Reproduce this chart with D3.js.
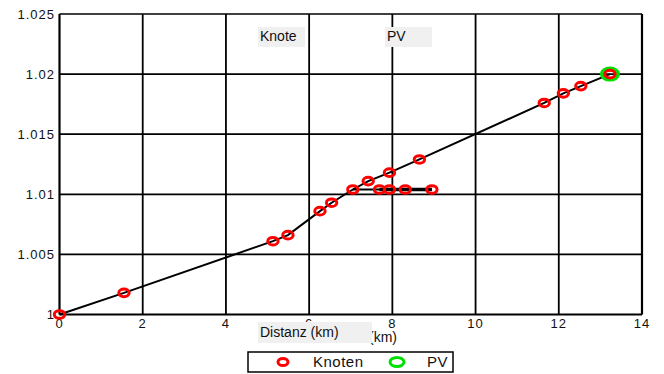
<!DOCTYPE html>
<html>
<head>
<meta charset="utf-8">
<script src="https://cdn.jsdelivr.net/npm/d3@7"></script>
<style>
  body { margin: 0; background: #fff; }
  text { font-family: "Liberation Sans", Arial, sans-serif; fill: #111; }
</style>
</head>
<body>
<div class="chart-holder"></div>
<script>
// main feeder line: distance (km) and voltage (p.u.)
var mainKm = [0, 1.55, 5.13, 5.49, 6.26, 6.54, 7.05, 7.42, 7.93, 8.65, 11.65, 12.11, 12.53, 13.23];
var mainV  = [1.0, 1.0018, 1.0061, 1.0066, 1.0086, 1.0093, 1.0104, 1.0111, 1.0118, 1.0129, 1.0176, 1.0184, 1.0190, 1.0200];
// side branch
var branchKm = [7.05, 7.69, 7.93, 8.31, 8.95];
var branchV  = [1.0104, 1.0104, 1.0104, 1.0104, 1.0104];
// PV node
var pvKm = [13.23];
var pvV  = [1.0200];

var xTicks = [0, 2, 4, 6, 8, 10, 12, 14];
var yTicks = [1, 1.005, 1.01, 1.015, 1.02, 1.025];
var yTickLabels = ["1", "1.005", "1.01", "1.015", "1.02", "1.025"];

var width = 664, height = 374;
var margin = {top: 14, right: 22, bottom: 60, left: 59.5};

var svg = d3.select(".chart-holder")
  .append("svg")
  .attr("width", width)
  .attr("height", height);

var x = d3.scaleLinear().domain([0, 14]).range([margin.left, width - margin.right]);
var y = d3.scaleLinear().domain([1, 1.025]).range([314.5, margin.top]);

// grid
var grid = svg.append("g");
grid.selectAll(".vgrid").data(xTicks).enter().append("line")
  .attr("x1", function(d) { return x(d); }).attr("x2", function(d) { return x(d); })
  .attr("y1", y(1)).attr("y2", y(1.025))
  .attr("stroke", "#000").attr("stroke-width", function(d) { return d == 14 || d == 0 ? 2.2 : 1.8; });
grid.selectAll(".hgrid").data(yTicks).enter().append("line")
  .attr("x1", x(0)).attr("x2", x(14))
  .attr("y1", function(d) { return y(d); }).attr("y2", function(d) { return y(d); })
  .attr("stroke", "#000").attr("stroke-width", function(d) { return d == 1.025 ? 1.3 : 1.8; });

// tick labels
svg.append("g").selectAll("text").data(xTicks).enter().append("text")
  .attr("x", function(d) { return x(d); })
  .attr("y", 328)
  .attr("text-anchor", "middle")
  .style("font-size", "13px")
  .style("letter-spacing", "1px")
  .text(function(d) { return d; });
svg.append("g").selectAll("text").data(yTicks).enter().append("text")
  .attr("x", 55)
  .attr("y", function(d) { return y(d) + 4.5; })
  .attr("text-anchor", "end")
  .style("font-size", "13px")
  .style("letter-spacing", "1px")
  .text(function(d, i) { return yTickLabels[i]; });

// original axis label (mostly hidden)
svg.append("text")
  .attr("x", 397).attr("y", 342)
  .attr("text-anchor", "end")
  .style("font-size", "14px")
  .text("Distanz (km)");

// lines
var line = d3.line().x(function(d) { return x(d[0]); }).y(function(d) { return y(d[1]); });
svg.append("path")
  .attr("d", line(mainKm.map(function(k, i) { return [k, mainV[i]]; })))
  .attr("fill", "none").attr("stroke", "#000").attr("stroke-width", 2);
svg.append("path")
  .attr("d", line(branchKm.map(function(k, i) { return [k, branchV[i]]; })))
  .attr("fill", "none").attr("stroke", "#000").attr("stroke-width", 2);
svg.append("path")
  .attr("d", line(branchKm.slice(1).map(function(k, i) { return [k, branchV[i + 1]]; })))
  .attr("fill", "none").attr("stroke", "#000").attr("stroke-width", 3.5);

// markers
var nodes = mainKm.map(function(k, i) { return [k, mainV[i]]; })
  .concat(branchKm.slice(1).map(function(k, i) { return [k, branchV[i + 1]]; }));
svg.append("g").selectAll("ellipse").data(pvKm).enter().append("ellipse")
  .attr("cx", function(d) { return x(d); })
  .attr("cy", function(d, i) { return y(pvV[i]); })
  .attr("rx", 8).attr("ry", 5.5)
  .attr("fill", "none").attr("stroke", "#00e000").attr("stroke-width", 4);
svg.append("g").selectAll("ellipse").data(nodes).enter().append("ellipse")
  .attr("cx", function(d) { return x(d[0]); })
  .attr("cy", function(d) { return y(d[1]); })
  .attr("rx", 5.2).attr("ry", 3.8)
  .attr("fill", "none").attr("stroke", "#ff0000").attr("stroke-width", 3);

// grey annotation boxes
function greyLabel(x0, y0, w, h, txt) {
  svg.append("rect").attr("x", x0).attr("y", y0).attr("width", w).attr("height", h).attr("fill", "#f0f0f0");
  svg.append("text").attr("x", x0 + 2).attr("y", y0 + h - 6).style("font-size", "14px").text(txt);
}
greyLabel(258, 27, 47, 20, "Knote");
greyLabel(385, 27, 47, 20, "PV");
greyLabel(258, 322, 114, 21, "Distanz (km)");

// legend
var legend = svg.append("g");
legend.append("rect").attr("x", 248).attr("y", 352).attr("width", 205).attr("height", 20)
  .attr("fill", "#fff").attr("stroke", "#000").attr("stroke-width", 1.5);
legend.append("ellipse").attr("cx", 283).attr("cy", 362).attr("rx", 5).attr("ry", 3.5)
  .attr("fill", "none").attr("stroke", "#ff0000").attr("stroke-width", 3);
legend.append("text").attr("x", 313).attr("y", 367).style("font-size", "15px").style("letter-spacing", "0.5px").text("Knoten");
legend.append("ellipse").attr("cx", 397).attr("cy", 362).attr("rx", 7).attr("ry", 4.5)
  .attr("fill", "none").attr("stroke", "#00e000").attr("stroke-width", 3);
legend.append("text").attr("x", 427).attr("y", 367).style("font-size", "15px").style("letter-spacing", "0.5px").text("PV");
</script>
</body>
</html>
